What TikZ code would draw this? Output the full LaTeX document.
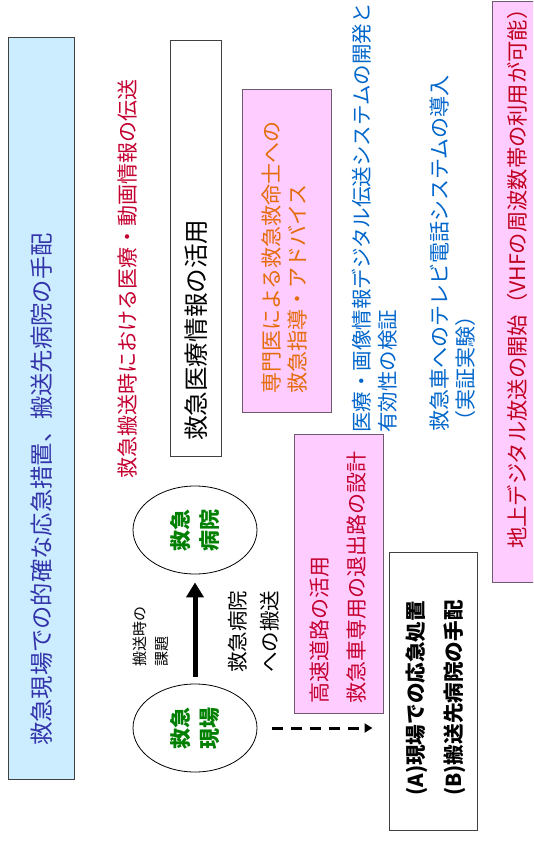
\documentclass[tikz,border=0pt]{standalone}
\usepackage{fontspec}
\setmainfont{Noto Sans CJK JP}
\usetikzlibrary{shapes.geometric,arrows.meta}
\definecolor{lblue}{RGB}{204,236,255}
\definecolor{lpink}{RGB}{255,204,255}
\definecolor{indig}{RGB}{51,51,170}
\definecolor{crim}{RGB}{196,0,48}
\definecolor{orng}{RGB}{228,108,10}
\definecolor{tblue}{RGB}{0,102,204}
\definecolor{dred}{RGB}{192,0,32}
\definecolor{dgreen}{RGB}{0,128,0}
\definecolor{bord}{RGB}{64,64,64}
\definecolor{pbord}{RGB}{110,90,110}
\begin{document}
\begin{tikzpicture}[x=1pt,y=-1pt,
  rtext/.style={rotate=90,anchor=west,inner sep=0pt},
  fs/.style={font=\fontsize{#1}{#1}\selectfont},
  plainbox/.style={draw=bord,line width=1pt,fill=white,inner sep=0pt},
  bluebox/.style={draw=bord,line width=1pt,fill=lblue,inner sep=0pt},
  pinkbox/.style={draw=pbord,line width=1pt,fill=lpink,inner sep=0pt},
  oval/.style={ellipse,draw=black,line width=0.8pt,rotate=90,minimum width=88pt,minimum height=124pt,inner sep=0pt,align=center,text=dgreen,font=\bfseries\fontsize{21}{29}\selectfont},
  bigarrow/.style={line width=5pt,-{Triangle[width=17pt,length=15pt]}},
  dasharrow/.style={line width=3pt,dash pattern=on 11pt off 8pt,-{Triangle[width=9pt,length=8pt]}}]
\useasboundingbox (0,0) rectangle (533,841);
\clip (0,0) rectangle (533,841);
\fill[white] (0,0) rectangle (533,841);

% boxes
\node[bluebox,minimum width=66pt,minimum height=742pt] (bluebx) at (41,408) {};
\node[plainbox,minimum width=51pt,minimum height=416pt] (infobx) at (195.5,248) {};
\node[pinkbox,minimum width=89pt,minimum height=323pt] (advbx) at (286.5,250.5) {};
\node[pinkbox,minimum width=89pt,minimum height=279pt] (roadbx) at (338.5,573.5) {};
\node[plainbox,minimum width=88pt,minimum height=278pt] (abbx) at (433,691) {};
\node[pinkbox,minimum width=53pt,minimum height=580.5pt] (tvbx) at (518.5,291.75) {};

% texts
\node[rtext,fs=23.3,text=indig] (t1) at (42,746) {救急現場での的確な応急措置、搬送先病院の手配};
\node[rtext,fs=21,text=crim] (t2) at (128,479) {救急搬送時における医療・動画情報の伝送};
\node[rtext,fs=24.6,text=black] (t3) at (196,441) {救急医療情報の活用};
\node[rtext,fs=21,text=orng] (t4a) at (272,394) {専門医による救急救命士への};
\node[rtext,fs=21,text=orng] (t4b) at (298,394) {救急指導・アドバイス};
\node[rtext,fs=20.5,text=tblue] (t5a) at (362,433) {医療・画像情報デジタル伝送システムの開発と};
\node[rtext,fs=20.5,text=tblue] (t5b) at (388,433) {有効性の検証};
\node[rtext,fs=21,text=tblue] (t6a) at (440,432) {救急車へのテレビ電話システムの導入};
\node[rtext,fs=21,text=tblue] (t6b) at (466,432) {（実証実験）};
\node[rtext,fs=21.3,text=dred] (t7) at (517,549) {地上デジタル放送の開始（VHFの周波数帯の利用が可能）};
\node[rtext,fs=21,text=crim] (t8a) at (320,704) {高速道路の活用};
\node[rtext,fs=21,text=crim] (t8b) at (357,704) {救急車専用の退出路の設計};
\node[rtext,fs=15,text=black] (t9a) at (140,667) {搬送時の};
\node[rtext,fs=15,text=black] (t9b) at (162,667) {課題};
\node[rtext,fs=20.5,text=black] (t10a) at (238,673) {救急病院};
\node[rtext,fs=20.5,text=black] (t10b) at (270,673) {への搬送};
\node[rtext,text=black,font=\bfseries\fontsize{20.6}{20.6}\selectfont] (t11a) at (417,796) {(A)現場での応急処置};
\node[rtext,text=black,font=\bfseries\fontsize{20.6}{20.6}\selectfont] (t11b) at (455,796) {(B)搬送先病院の手配};

% ellipses
\node[oval] (hosp) at (195,530) {救急\\病院};
\node[oval] (scene) at (195,728) {救急\\現場};

% connectors
\draw[bigarrow,shorten <=7pt,shorten >=8pt] (scene) -- (hosp);
\draw[dasharrow,shorten <=15pt,shorten >=16pt] (scene.south) -- (scene.south -| abbx.west);
\end{tikzpicture}
\end{document}
